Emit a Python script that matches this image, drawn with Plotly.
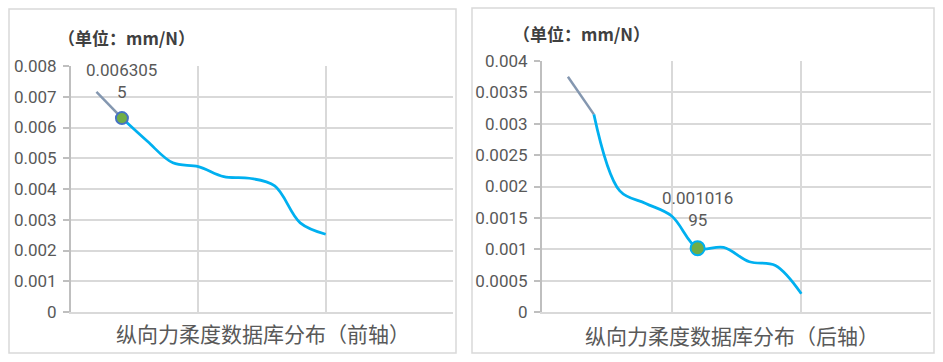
import plotly.graph_objects as go

# ---- data ----
x_pos = [0.2, 0.4, 0.6, 0.8, 1.0, 1.2, 1.4, 1.6, 1.8, 2.0]
front_vals = [0.00716, 0.0063055, 0.00555, 0.00485, 0.00473, 0.00440, 0.00435, 0.00410, 0.00290, 0.00253]
rear_vals = [0.00375, 0.00315, 0.00193, 0.00173, 0.00153, 0.00101695, 0.00103, 0.00080, 0.00074, 0.00029]
front_ticks = [0, 0.001, 0.002, 0.003, 0.004, 0.005, 0.006, 0.007, 0.008]
front_ticklabels = ["0", "0.001", "0.002", "0.003", "0.004", "0.005", "0.006", "0.007", "0.008"]
rear_ticks = [0, 0.0005, 0.001, 0.0015, 0.002, 0.0025, 0.003, 0.0035, 0.004]
rear_ticklabels = ["0", "0.0005", "0.001", "0.0015", "0.002", "0.0025", "0.003", "0.0035", "0.004"]
front_label_idx = 1
rear_label_idx = 5
front_label = "0.006305<br>5"
rear_label = "0.001016<br>95"
front_title = "纵向力柔度数据库分布（前轴）"
rear_title = "纵向力柔度数据库分布（后轴）"
unit_text = "<b>（单位：mm/N）</b>"

W, H = 943, 362
def fx(px): return px / W
def fy(py): return 1 - py / H

BLUE = "#00B0F0"
GRAY_LINE = "#8497B0"
TXT = "#595959"
GRID = "#D9D9D9"
NUMFONT = "Roboto, Noto Sans CJK SC"
CJK = "Noto Sans CJK SC"

fig = go.Figure()

# front axle
fig.add_trace(go.Scatter(x=x_pos[:2], y=front_vals[:2], mode="lines",
                         line=dict(color=GRAY_LINE, width=2.5), xaxis="x", yaxis="y",
                         hoverinfo="skip", showlegend=False))
fig.add_trace(go.Scatter(x=x_pos[1:], y=front_vals[1:], mode="lines",
                         line=dict(color=BLUE, width=2.75, shape="spline", smoothing=1),
                         xaxis="x", yaxis="y", showlegend=False))
fig.add_trace(go.Scatter(x=[x_pos[front_label_idx]], y=[front_vals[front_label_idx]], mode="markers",
                         marker=dict(color="#70AD47", size=12, line=dict(color="#4472C4", width=2)),
                         xaxis="x", yaxis="y", showlegend=False))
# rear axle
fig.add_trace(go.Scatter(x=x_pos[:2], y=rear_vals[:2], mode="lines",
                         line=dict(color=GRAY_LINE, width=2.5), xaxis="x2", yaxis="y2",
                         hoverinfo="skip", showlegend=False))
fig.add_trace(go.Scatter(x=x_pos[1:], y=rear_vals[1:], mode="lines",
                         line=dict(color=BLUE, width=2.75, shape="spline", smoothing=1),
                         xaxis="x2", yaxis="y2", showlegend=False))
fig.add_trace(go.Scatter(x=[x_pos[rear_label_idx]], y=[rear_vals[rear_label_idx]], mode="markers",
                         marker=dict(color="#70AD47", size=14, line=dict(color=BLUE, width=2)),
                         xaxis="x2", yaxis="y2", showlegend=False))

xcommon = dict(range=[0, 3], dtick=1, tick0=0, showticklabels=False, showgrid=True,
               gridcolor=GRID, gridwidth=1.5, zeroline=False, showline=True,
               linecolor=GRID, linewidth=1.5, mirror=False, fixedrange=True, automargin=False)
ycommon = dict(showgrid=True, gridcolor=GRID, gridwidth=1.5, zeroline=False, showline=True,
               linecolor="#BFBFBF", linewidth=2, ticks="outside", ticklen=6, tickcolor="#BFBFBF",
               tickwidth=1.5, tickfont=dict(family=NUMFONT, size=17, color=TXT), ticklabelstandoff=3,
               automargin=False, fixedrange=True)

fig.update_layout(
    width=W, height=H, margin=dict(l=0, r=0, t=0, b=0),
    paper_bgcolor="white", plot_bgcolor="white",
    xaxis=dict(domain=[fx(71), fx(453)], anchor="y", **xcommon),
    yaxis=dict(domain=[fy(312), fy(66)], anchor="x", range=[0, 0.008],
               tickvals=front_ticks, ticktext=front_ticklabels, **ycommon),
    xaxis2=dict(domain=[fx(542), fx(931)], anchor="y2", **xcommon),
    yaxis2=dict(domain=[fy(312), fy(61)], anchor="x2", range=[0, 0.004],
                tickvals=rear_ticks, ticktext=rear_ticklabels, **ycommon),
    shapes=[
        dict(type="rect", xref="paper", yref="paper", x0=fx(9), x1=fx(456), y0=fy(353), y1=fy(9),
             line=dict(color=GRID, width=1.5)),
        dict(type="rect", xref="paper", yref="paper", x0=fx(472), x1=fx(934), y0=fy(353), y1=fy(8),
             line=dict(color=GRID, width=1.5)),
    ],
    annotations=[
        dict(x=x_pos[front_label_idx], y=front_vals[front_label_idx], xref="x", yref="y",
             text=front_label, showarrow=False, yanchor="bottom", yshift=14,
             font=dict(family=NUMFONT, size=17, color=TXT)),
        dict(x=x_pos[rear_label_idx], y=rear_vals[rear_label_idx], xref="x2", yref="y2",
             text=rear_label, showarrow=False, yanchor="bottom", yshift=16,
             font=dict(family=NUMFONT, size=17, color=TXT)),
        dict(x=fx(56), y=fy(37), xref="paper", yref="paper", xanchor="left", yanchor="middle",
             text=unit_text, showarrow=False, font=dict(family=CJK, size=17, color="#404040")),
        dict(x=fx(511), y=fy(33), xref="paper", yref="paper", xanchor="left", yanchor="middle",
             text=unit_text, showarrow=False, font=dict(family=CJK, size=17, color="#404040")),
        dict(x=fx(263), y=fy(333), xref="paper", yref="paper", xanchor="center", yanchor="middle",
             text=front_title, showarrow=False, font=dict(family=CJK, size=21, color=TXT)),
        dict(x=fx(732), y=fy(335), xref="paper", yref="paper", xanchor="center", yanchor="middle",
             text=rear_title, showarrow=False, font=dict(family=CJK, size=21, color=TXT)),
    ],
)

fig.write_html("out.html", config={"displayModeBar": False},
               post_script="document.body.style.margin='0';document.body.style.padding='0';")
